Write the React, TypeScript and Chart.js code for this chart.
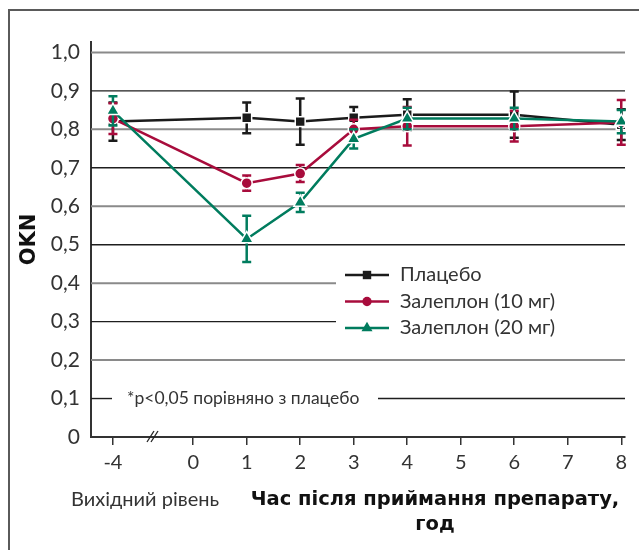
import { useEffect, useRef } from 'react';
import { Chart, registerables } from 'chart.js';

Chart.register(...registerables);

// ---- data ----
const hours = [-4, 1, 2, 3, 4, 6, 8];
const BASELINE_HOUR = -4;
const BASELINE_POS = -1.5; // baseline is drawn left of the axis break
const xTickPositions = [-1.5, 0, 1, 2, 3, 4, 5, 6, 7, 8];
const xTickLabels = ['-4', '0', '1', '2', '3', '4', '5', '6', '7', '8'];
const yTickValues = [0, 0.1, 0.2, 0.3, 0.4, 0.5, 0.6, 0.7, 0.8, 0.9, 1.0];

const seriesNames = ['Плацебо', 'Залеплон (10 мг)', 'Залеплон (20 мг)'];
const placebo = [0.82, 0.83, 0.82, 0.83, 0.838, 0.838, 0.812];
const placeboErr = [0.05, 0.04, 0.06, 0.028, 0.04, 0.06, 0.04];
const zal10 = [0.828, 0.66, 0.685, 0.80, 0.808, 0.808, 0.818];
const zal10Err = [0.04, 0.02, 0.022, 0.025, 0.05, 0.04, 0.058];
const zal20 = [0.848, 0.515, 0.61, 0.775, 0.828, 0.828, 0.82];
const zal20Err = [0.038, 0.06, 0.025, 0.025, 0.028, 0.028, 0.03];

const yTitle = 'OKN';
const noteText = '*p<0,05 порівняно з плацебо';
const baselineLabel = 'Вихідний рівень';
const xTitleLines = ['Час після приймання препарату,', 'год'];

const COLORS = ['#1b1b1b', '#a80c3c', '#007c5e'];
const STYLES = ['rect', 'circle', 'triangle'];
const RADII = [7, 5.5, 7.5];

const REG = 'Lato, "DejaVu Sans", sans-serif';
const BOLD = '"DejaVu Sans", sans-serif';

const toPoints = (vals: number[]) =>
  hours.map((h, i) => ({ x: h === BASELINE_HOUR ? BASELINE_POS : h, y: vals[i] }));

function drawMarker(ctx: CanvasRenderingContext2D, style: string, x: number, y: number, r: number, color: string) {
  ctx.save();
  ctx.fillStyle = color;
  ctx.beginPath();
  if (style === 'rect') {
    const s = r * Math.SQRT1_2;
    ctx.rect(x - s, y - s, 2 * s, 2 * s);
  } else if (style === 'circle') {
    ctx.arc(x, y, r, 0, Math.PI * 2);
  } else {
    ctx.moveTo(x, y - r);
    ctx.lineTo(x + Math.sin((2 * Math.PI) / 3) * r, y + r / 2);
    ctx.lineTo(x - Math.sin((2 * Math.PI) / 3) * r, y + r / 2);
    ctx.closePath();
  }
  ctx.fill();
  ctx.restore();
}

const gridPlugin = {
  id: 'customGrid',
  beforeDatasetsDraw(chart: any) {
    const { ctx, chartArea } = chart;
    const ys = chart.scales.y;
    ctx.save();
    yTickValues.forEach((v) => {
      if (v <= 0) return;
      const k = Math.round(v * 10);
      const py = ys.getPixelForValue(v);
      const gray = k % 2 === 0;
      ctx.strokeStyle = gray ? '#8a8a8a' : '#1e1e1e';
      ctx.lineWidth = gray ? 2 : 1.4;
      const segs: [number, number][] = [];
      if (k === 3 || k === 4) segs.push([chartArea.left, 336]);
      else if (k === 1) {
        segs.push([chartArea.left, 112]);
        segs.push([378, chartArea.right]);
      } else segs.push([chartArea.left, chartArea.right]);
      segs.forEach(([a, b]) => {
        ctx.beginPath();
        ctx.moveTo(a, py);
        ctx.lineTo(b, py);
        ctx.stroke();
      });
    });
    ctx.restore();
  },
};

const errorBarPlugin = {
  id: 'errorBars',
  beforeDatasetDraw(chart: any, args: any) {
    const ds = chart.data.datasets[args.index];
    if (!ds.errors) return;
    const ys = chart.scales.y;
    const ctx = chart.ctx;
    ctx.save();
    ctx.strokeStyle = ds.borderColor;
    ctx.lineWidth = 2.5;
    args.meta.data.forEach((pt: any, i: number) => {
      const v = ds.data[i].y;
      const e = ds.errors[i];
      const yt = ys.getPixelForValue(v + e);
      const yb = ys.getPixelForValue(v - e);
      const x = pt.x;
      ctx.beginPath();
      ctx.moveTo(x, yt);
      ctx.lineTo(x, yb);
      ctx.moveTo(x - 4.5, yt);
      ctx.lineTo(x + 4.5, yt);
      ctx.moveTo(x - 4.5, yb);
      ctx.lineTo(x + 4.5, yb);
      ctx.stroke();
    });
    ctx.restore();
  },
};

const decorPlugin = {
  id: 'decor',
  afterDraw(chart: any) {
    const { ctx, chartArea } = chart;
    const ys = chart.scales.y;
    ctx.save();
    // frame
    ctx.strokeStyle = '#5a5a5a';
    ctx.lineWidth = 2;
    ctx.beginPath();
    ctx.moveTo(9, 550);
    ctx.lineTo(9, 10);
    ctx.lineTo(639, 10);
    ctx.stroke();

    // axis break
    ctx.strokeStyle = '#222';
    ctx.lineWidth = 1.3;
    const by = chartArea.bottom;
    [0, 4].forEach((dx) => {
      ctx.beginPath();
      ctx.moveTo(147 + dx, by + 5);
      ctx.lineTo(154 + dx, by - 6);
      ctx.stroke();
    });

    // note
    ctx.fillStyle = '#333';
    ctx.textBaseline = 'middle';
    ctx.textAlign = 'left';
    ctx.font = `17.5px ${REG}`;
    ctx.fillText(noteText, 127, ys.getPixelForValue(0.1));

    // legend
    const ly = [275, 301.5, 328];
    seriesNames.forEach((name, i) => {
      ctx.strokeStyle = COLORS[i];
      ctx.lineWidth = 2.5;
      ctx.beginPath();
      ctx.moveTo(345, ly[i]);
      ctx.lineTo(389, ly[i]);
      ctx.stroke();
      drawMarker(ctx, STYLES[i], 367, ly[i], RADII[i] * 0.85, COLORS[i]);
      ctx.fillStyle = '#333';
      ctx.font = `20px ${REG}`;
      ctx.textAlign = 'left';
      ctx.fillText(name, 400, ly[i]);
    });

    // bottom labels
    ctx.fillStyle = '#333';
    ctx.textAlign = 'center';
    ctx.font = `20px ${REG}`;
    ctx.fillText(baselineLabel, 145, 500);
    ctx.fillStyle = '#111';
    ctx.font = `bold 19.5px ${BOLD}`;
    ctx.fillText(xTitleLines[0], 435, 500);
    ctx.fillText(xTitleLines[1], 435, 525);
    ctx.restore();
  },
};

export default function App() {
  const ref = useRef<HTMLCanvasElement | null>(null);
  useEffect(() => {
    if (!ref.current) return;
    const chart = new Chart(ref.current, {
      type: 'line',
      data: {
        datasets: [
          { label: seriesNames[0], data: toPoints(placebo), errors: placeboErr, order: 3 },
          { label: seriesNames[1], data: toPoints(zal10), errors: zal10Err, order: 2 },
          { label: seriesNames[2], data: toPoints(zal20), errors: zal20Err, order: 1 },
        ].map((d, i) => ({
          ...d,
          borderColor: COLORS[i],
          backgroundColor: COLORS[i],
          pointBackgroundColor: COLORS[i],
          pointBorderColor: '#ffffff',
          pointBorderWidth: 1.5,
          pointStyle: STYLES[i],
          pointRadius: RADII[i],
          borderWidth: 2.5,
          tension: 0,
        })) as any,
      },
      options: {
        animation: false,
        responsive: false,
        devicePixelRatio: 1,
        layout: { padding: { left: 0, right: 14, top: 42, bottom: 0 } },
        plugins: { legend: { display: false }, tooltip: { enabled: false } },
        scales: {
          x: {
            type: 'linear',
            min: -1.91,
            max: 8.07,
            afterBuildTicks: (s: any) => {
              s.ticks = xTickPositions.map((v) => ({ value: v }));
            },
            afterFit: (s: any) => {
              s.height = 113;
            },
            ticks: {
              autoSkip: false,
              maxRotation: 0,
              padding: 6,
              color: '#333',
              font: { family: REG, size: 20 },
              callback: (_v: any, i: number) => xTickLabels[i],
            },
            grid: {
              display: true,
              drawOnChartArea: false,
              drawTicks: true,
              tickLength: 8,
              color: '#333',
              lineWidth: 1.5,
            },
            border: { display: true, color: '#333', width: 2 },
          },
          y: {
            type: 'linear',
            min: 0,
            max: 1.027,
            afterBuildTicks: (s: any) => {
              s.ticks = yTickValues.map((v) => ({ value: v }));
            },
            afterFit: (s: any) => {
              s.width = 91;
            },
            ticks: {
              padding: 11,
              color: '#333',
              font: { family: REG, size: 21 },
              callback: (v: any) => (v === 0 ? '0' : Number(v).toFixed(1).replace('.', ',')),
            },
            grid: { display: false, drawTicks: false },
            border: { display: true, color: '#333', width: 2 },
            title: {
              display: true,
              text: yTitle,
              color: '#111',
              font: { family: BOLD, size: 21, weight: 'bold' },
              padding: { top: 17, bottom: 0 },
            },
          },
        },
      } as any,
      plugins: [gridPlugin, errorBarPlugin, decorPlugin],
    });
    return () => chart.destroy();
  }, []);
  return (
    <div style={{ position: 'fixed', left: 0, top: 0, width: 639, height: 550, background: '#fff' }}>
      <canvas ref={ref} width={639} height={550} />
    </div>
  );
}
